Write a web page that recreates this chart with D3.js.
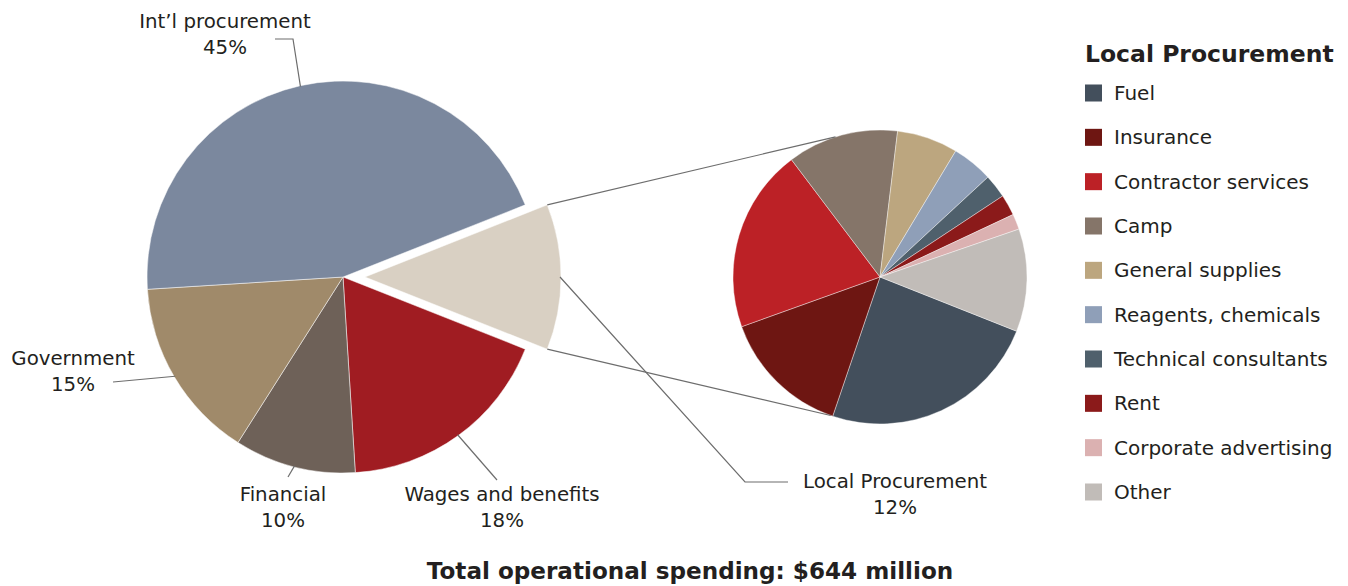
<!DOCTYPE html>
<html><head><meta charset="utf-8">
<script src="https://cdn.jsdelivr.net/npm/d3@7/dist/d3.min.js"></script>
<style>
html,body{margin:0;padding:0;background:#fff;}
svg{display:block;}
text{font-family:"DejaVu Sans",sans-serif;fill:#231f20;}
</style></head>
<body>
<svg id="c" width="1348" height="586"></svg>
<script>
// Main pie data (share of total operational spending, %)
const mainCategories = ["Local Procurement", "Wages and benefits", "Financial", "Government", "Int’l procurement"];
const mainValues = [12, 18, 10, 15, 45];
const mainColors = ["#d9d0c3", "#a01c22", "#6e6158", "#a08a6a", "#7b889e"];

// Local procurement breakdown (% of local procurement)
const localCategories = ["Fuel", "Insurance", "Contractor services", "Camp", "General supplies",
  "Reagents, chemicals", "Technical consultants", "Rent", "Corporate advertising", "Other"];
const localValues = [24.2, 14.3, 20.2, 12.2, 6.7, 4.5, 2.6, 2.3, 1.7, 11.3];
const localColors = ["#434f5c", "#6e1612", "#bc2126", "#857569", "#bca67f",
  "#8f9fb8", "#4f606c", "#8b1a1a", "#dbb1b1", "#c1bcb8"];

const legendTitle = "Local Procurement";
const chartTitle = "Total operational spending: $644 million";

const svg = d3.select("#c");
const deg = Math.PI / 180;

// ---------- main pie ----------
const cx1 = 343, cy1 = 277, r1 = 196, explode = 22;
const mainStart = (90 - mainValues[0] / 100 * 180) * deg;
const pie1 = d3.pie().sort(null).startAngle(mainStart).endAngle(mainStart + 2 * Math.PI);
const arcs1 = pie1(mainValues);
const arc1 = d3.arc().innerRadius(0).outerRadius(r1);
const g1 = svg.append("g").attr("transform", `translate(${cx1},${cy1})`);
g1.selectAll("path").data(arcs1).join("path")
  .attr("d", arc1)
  .attr("fill", (d, i) => mainColors[i])
  .attr("stroke", "#fff").attr("stroke-width", 0.5)
  .attr("transform", (d, i) => {
    if (i !== 0) return null;
    const m = (d.startAngle + d.endAngle) / 2;
    return `translate(${explode * Math.sin(m)},${-explode * Math.cos(m)})`;
  });

const pt = (cx, cy, r, a) => [cx + r * Math.sin(a), cy - r * Math.cos(a)];

// ---------- second pie ----------
const cx2 = 880, cy2 = 277, r2 = 147;
const localStart = 111.65 * deg;
const pie2 = d3.pie().sort(null).startAngle(localStart).endAngle(localStart + 2 * Math.PI);
const arcs2 = pie2(localValues);
const arc2 = d3.arc().innerRadius(0).outerRadius(r2);
const g2 = svg.append("g").attr("transform", `translate(${cx2},${cy2})`);
g2.selectAll("path").data(arcs2).join("path")
  .attr("d", arc2)
  .attr("fill", (d, i) => localColors[i])
  .attr("stroke", "#fff").attr("stroke-width", 0.4);

// ---------- connector lines ----------
const lp = arcs1[0];
const exMid = (lp.startAngle + lp.endAngle) / 2;
const ecx = cx1 + explode * Math.sin(exMid), ecy = cy1 - explode * Math.cos(exMid);
const lineCol = "#6d6d6d";
const conn = [
  [pt(ecx, ecy, r1, lp.startAngle), pt(cx2, cy2, r2, 342.4 * deg)],
  [pt(ecx, ecy, r1, lp.endAngle), pt(cx2, cy2, r2, 199.6 * deg)]
];
svg.selectAll("line.conn").data(conn).join("line").attr("class", "conn")
  .attr("x1", d => d[0][0]).attr("y1", d => d[0][1])
  .attr("x2", d => d[1][0]).attr("y2", d => d[1][1])
  .attr("stroke", lineCol).attr("stroke-width", 1.2);

// ---------- labels with leader lines ----------
const labelLayout = [
  { pts: [[745, 482], [788, 482]], tx: 895, ty: 488 },   // Local
  { pts: [[497, 480]], tx: 502, ty: 501 },               // Wages
  { pts: [[288, 477]], tx: 283, ty: 501 },               // Financial
  { pts: [[113, 382]], tx: 73, ty: 365 },                // Government
  { pts: [[293, 39], [275, 39]], tx: 225, ty: 28 }       // Int'l
];
arcs1.forEach((d, i) => {
  const m = (d.startAngle + d.endAngle) / 2;
  const c = i === 0 ? [ecx, ecy] : [cx1, cy1];
  const start = pt(c[0], c[1], r1 - 1, m);
  const L = labelLayout[i];
  svg.append("path")
    .attr("d", d3.line()([start, ...L.pts]))
    .attr("fill", "none").attr("stroke", lineCol).attr("stroke-width", 1.2);
  const t = svg.append("text").attr("text-anchor", "middle").attr("font-size", 19.8);
  t.append("tspan").attr("x", L.tx).attr("y", L.ty).text(mainCategories[i]);
  t.append("tspan").attr("x", L.tx).attr("y", L.ty + 26).text(mainValues[i] + "%");
});

// ---------- legend ----------
svg.append("text").attr("x", 1085).attr("y", 62)
  .attr("font-size", 23.5).attr("font-weight", 700).text(legendTitle);
const lg = svg.append("g");
const rowY = d3.scalePoint().domain(localCategories).range([93, 492]);
localCategories.forEach((c, i) => {
  const y = rowY(c);
  lg.append("rect").attr("x", 1085).attr("y", y - 8.5).attr("width", 17).attr("height", 17)
    .attr("fill", localColors[i]);
  lg.append("text").attr("x", 1114).attr("y", y + 7).attr("font-size", 20).text(c);
});

// ---------- bottom title ----------
svg.append("text").attr("x", 690).attr("y", 579).attr("text-anchor", "middle")
  .attr("font-size", 23.1).attr("font-weight", 700).text(chartTitle);
</script>
</body></html>
